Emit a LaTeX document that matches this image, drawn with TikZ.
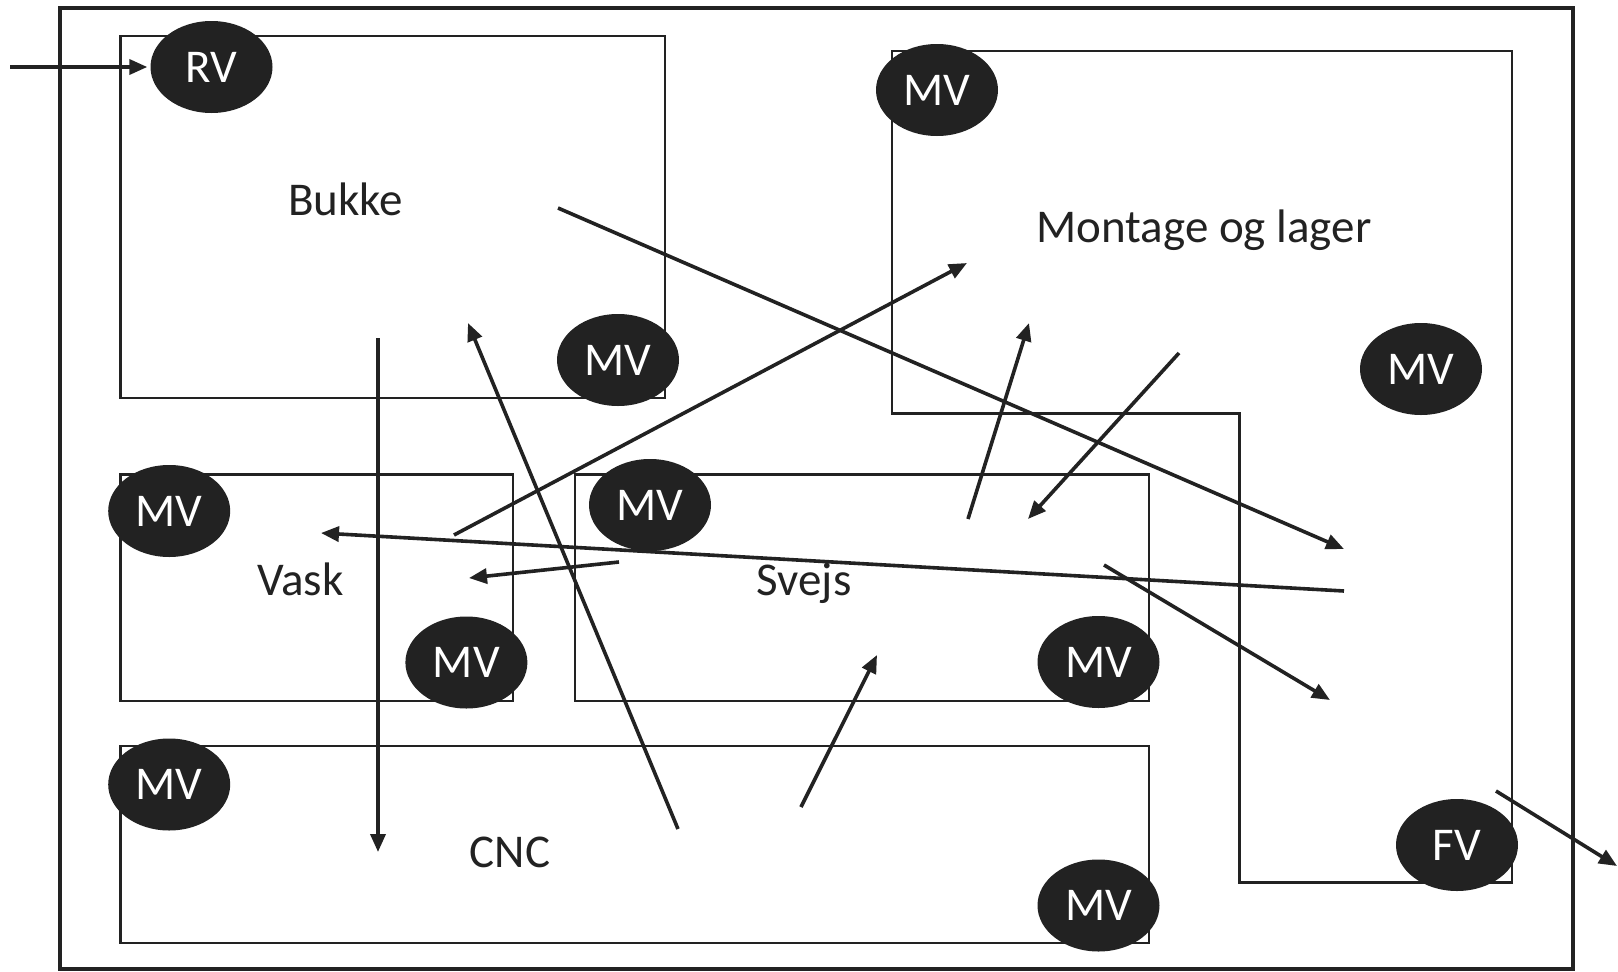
\documentclass[tikz,border=0pt]{standalone}
\usepackage{fontspec}
\setmainfont{Carlito}
\usetikzlibrary{shapes.geometric,arrows.meta}
\definecolor{ink}{HTML}{222222}
\begin{document}
\begin{tikzpicture}[x=1pt,y=-1pt,
 frame/.style={draw=ink,line width=4pt},
 room/.style={draw=ink,line width=2.4pt},
 lbl/.style={anchor=base,inner sep=0pt,text=ink,font=\fontsize{47}{50}\selectfont},
 valve/.style={ellipse,fill=ink,minimum width=122pt,minimum height=92pt,inner sep=0pt,text=white,font=\fontsize{47}{50}\selectfont},
 flow/.style={draw=ink,line width=3.6pt,-{Triangle[length=18pt,width=15pt]}}]
\useasboundingbox[fill=white] (0,0) rectangle (1618,972);
% outer frame
\draw[frame] (60,8) rectangle (1573,969);
% rooms
\draw[room] (120.5,36) rectangle (665,398);
\draw[room] (892,51) -- (1512,51) -- (1512,882.5) -- (1239.5,882.5) -- (1239.5,413.5) -- (892,413.5) -- cycle;
\draw[room] (120.5,474.5) rectangle (513,701);
\draw[room] (575,474.5) rectangle (1149,701);
\draw[room] (120.5,746) rectangle (1149,943);
% labels
\node[lbl] (bukke) at (345.6,215) {Bukke};
\node[lbl] (montage) at (1204,242) {Montage og lager};
\node[lbl] (vask) at (300.3,595) {Vask};
\node[lbl] (svejs) at (804,595) {Svejs};
\node[lbl] (cnc) at (510,867) {CNC};
% valves
\node[valve] (RV) at (211.5,67) {RV};
\node[valve] (mvB) at (618,360) {MV};
\node[valve] (mvM1) at (937,90) {MV};
\node[valve] (mvM2) at (1421,369) {MV};
\node[valve] (FV) at (1457,845) {FV};
\node[valve] (mvV1) at (169.2,511) {MV};
\node[valve] (mvV2) at (466.4,662.5) {MV};
\node[valve] (mvS1) at (650,505) {MV};
\node[valve] (mvS2) at (1098.5,662) {MV};
\node[valve] (mvC1) at (169.2,784.5) {MV};
\node[valve] (mvC2) at (1098.5,905.5) {MV};
% flow end points
\coordinate (in) at (10,67);
\coordinate (a1) at (558,208);   \coordinate (b1) at (1344,549);
\coordinate (a2) at (378,338);   \coordinate (b2) at (378,852);
\coordinate (a3) at (678,829);   \coordinate (b3) at (468,323);
\coordinate (a4) at (454,535);   \coordinate (b4) at (967,263);
\coordinate (a5) at (968,519);   \coordinate (b5) at (1029,323);
\coordinate (a6) at (1179,353);  \coordinate (b6) at (1028,519);
\coordinate (a7) at (1344,591);  \coordinate (b7) at (321,533);
\coordinate (a8) at (619,562);   \coordinate (b8) at (469,578);
\coordinate (a9) at (1104,565);  \coordinate (b9) at (1330,700);
\coordinate (a10) at (801,807);  \coordinate (b10) at (877,655);
\coordinate (a11) at (1496,791); \coordinate (b11) at (1617,866);
% flows
\draw[flow,shorten >=3pt] (in) -- (RV);
\draw[flow] (a1) -- (b1);
\draw[flow] (a2) -- (b2);
\draw[flow] (a3) -- (b3);
\draw[flow] (a4) -- (b4);
\draw[flow] (a5) -- (b5);
\draw[flow] (a6) -- (b6);
\draw[flow] (a7) -- (b7);
\draw[flow] (a8) -- (b8);
\draw[flow] (a9) -- (b9);
\draw[flow] (a10) -- (b10);
\draw[flow] (a11) -- (b11);
\end{tikzpicture}
\end{document}
